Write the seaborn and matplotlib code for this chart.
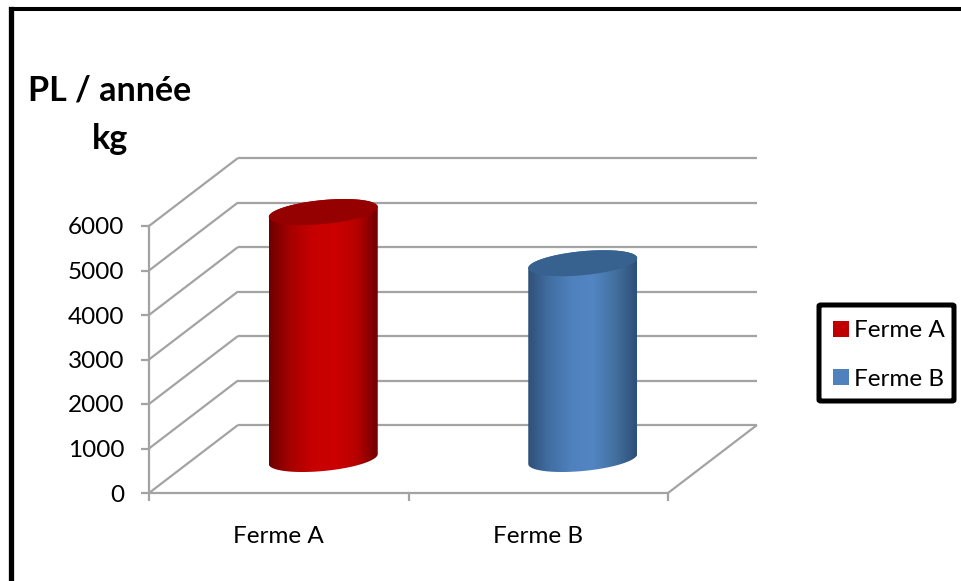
import numpy as np
import pandas as pd
import seaborn as sns
import matplotlib
matplotlib.use("Agg")
import matplotlib.pyplot as plt
from matplotlib.patches import Patch, Polygon, FancyBboxPatch

farms = ["Ferme A", "Ferme B"]
milk_yield = [5550, 4400]
y_ticks = [0, 1000, 2000, 3000, 4000, 5000, 6000]
bar_colors = ["#c00000", "#4f81bd"]
top_colors = ["#950000", "#37628f"]
body_shades = [
    ["#6e0000", "#a80000", "#c60000", "#cc0000", "#b80000", "#720000"],
    ["#2f5078", "#426fa3", "#4f81bd", "#5285c2", "#43709f", "#2d4f78"],
]

sns.set_theme(style="white")
plt.rcParams["font.family"] = ["Lato", "DejaVu Sans"]

W, H = 961, 581
fig = plt.figure(figsize=(W / 100, H / 100), dpi=100, facecolor="white")
ax = fig.add_axes([149 / W, (H - 493) / H, (668 - 149) / W, 267 / H])

df = pd.DataFrame({"farm": farms, "yield": milk_yield})
sns.barplot(data=df, x="farm", y="yield", hue="farm", palette=bar_colors,
            dodge=False, width=0.42, legend=False, ax=ax, zorder=3)
ax.set_xlim(-0.5, 1.5)
ax.set_ylim(0, 6000)
ax.set_xlabel("")
ax.set_ylabel("")

# Depth of the pseudo-3D box, in data units
depth_x = 89 / 259.5
depth_y = 68 / 44.5 * 1000
grid = "#a3a3a3"
line_kw = dict(color=grid, lw=1.6, clip_on=False, zorder=1, solid_capstyle="butt")

for v in y_ticks:
    ax.plot([-0.5, -0.5 + depth_x], [v, v + depth_y], **line_kw)
    ax.plot([-0.5 + depth_x, 1.5 + depth_x], [v + depth_y, v + depth_y], **line_kw)
ax.plot([1.5, 1.5 + depth_x], [0, depth_y], **line_kw)

# Cylinders: each bar sits mid-depth on the floor
t = np.linspace(0, 2 * np.pi, 241)
half = 120
ry, shear = 270, 112
for i, (bar, value) in enumerate(zip(ax.patches, milk_yield)):
    bar.set_x(bar.get_x() + depth_x / 2)
    bar.set_y(depth_y / 2)
    bar.set_clip_on(False)
    rx = bar.get_width() / 2
    cx = bar.get_x() + rx
    base = bar.get_y()
    top = base + bar.get_height()
    ex = cx + rx * np.cos(t)
    ey = ry * np.sin(t) + shear * np.cos(t)
    outline = np.r_[np.c_[ex[:half + 1], top + ey[:half + 1]],
                    np.c_[ex[half:], base + ey[half:]]]
    clip = Polygon(outline, closed=True, transform=ax.transData, fc="none", ec="none")
    ax.add_patch(clip)
    clip.set_clip_on(False)
    cmap = sns.blend_palette(body_shades[i], as_cmap=True)
    img = ax.imshow(np.linspace(0, 1, 256)[None, :], cmap=cmap, aspect="auto",
                    extent=[cx - rx, cx + rx, base - 400, top + 400], zorder=4)
    img.set_clip_box(fig.bbox)
    img.set_clip_path(clip)
    ax.add_patch(Polygon(np.c_[ex, top + ey], closed=True, fc=top_colors[i], ec="none",
                         zorder=5, clip_on=False))
    bar.set_visible(False)
ax.set_xlim(-0.5, 1.5)
ax.set_ylim(0, 6000)

# Axes, ticks and labels
for side in ["top", "right"]:
    ax.spines[side].set_visible(False)
for side in ["left", "bottom"]:
    ax.spines[side].set_color(grid)
    ax.spines[side].set_linewidth(1.6)
ax.patch.set_alpha(0)
ax.set_yticks(y_ticks)
ax.set_xticks([-0.5, 0.5, 1.5], labels=["", "", ""])
ax.set_xticks([0, 1], labels=farms, minor=True)
ax.tick_params(axis="y", which="major", left=True, length=5.8, width=1.6, color=grid,
               pad=12, labelsize=17.5, labelcolor="black")
ax.tick_params(axis="x", which="major", bottom=True, length=5.8, width=1.6, color=grid)
ax.tick_params(axis="x", which="minor", bottom=False, length=0, pad=23.5,
               labelsize=17.5, labelcolor="black")

# Heading
fig.text(110 / W, 1 - 91 / H, "PL / année", ha="center", va="center",
         fontsize=24.5, fontweight="bold", color="black")
fig.text(110 / W, 1 - 139 / H, "kg", ha="center", va="center",
         fontsize=24.5, fontweight="bold", color="black")

# Outer frame: left and top edges
fig.add_artist(plt.Line2D([10.7 / W, 10.7 / W], [0, 1 - 9 / H], color="black", lw=3.8,
                          transform=fig.transFigure, solid_capstyle="projecting"))
fig.add_artist(plt.Line2D([10.7 / W, 1], [1 - 9 / H, 1 - 9 / H], color="black", lw=2.9,
                          transform=fig.transFigure, solid_capstyle="projecting"))

# Legend box
fig.add_artist(FancyBboxPatch((819 / W, 1 - 401 / H), 135 / W, 96 / H,
                              boxstyle="round,pad=0,rounding_size=0.002",
                              transform=fig.transFigure, fc="white", ec="black",
                              lw=3.6, zorder=6))
handles = [Patch(fc=c, ec="none") for c in bar_colors]
fig.legend(handles, farms, loc="center left", bbox_to_anchor=(811 / W, 1 - 355 / H),
           frameon=False, fontsize=17.5, labelcolor="black",
           handlelength=0.65, handleheight=0.65, handletextpad=0.2, labelspacing=1.12
           ).set_zorder(7)

fig.savefig("out.png", dpi=100, facecolor="white")
